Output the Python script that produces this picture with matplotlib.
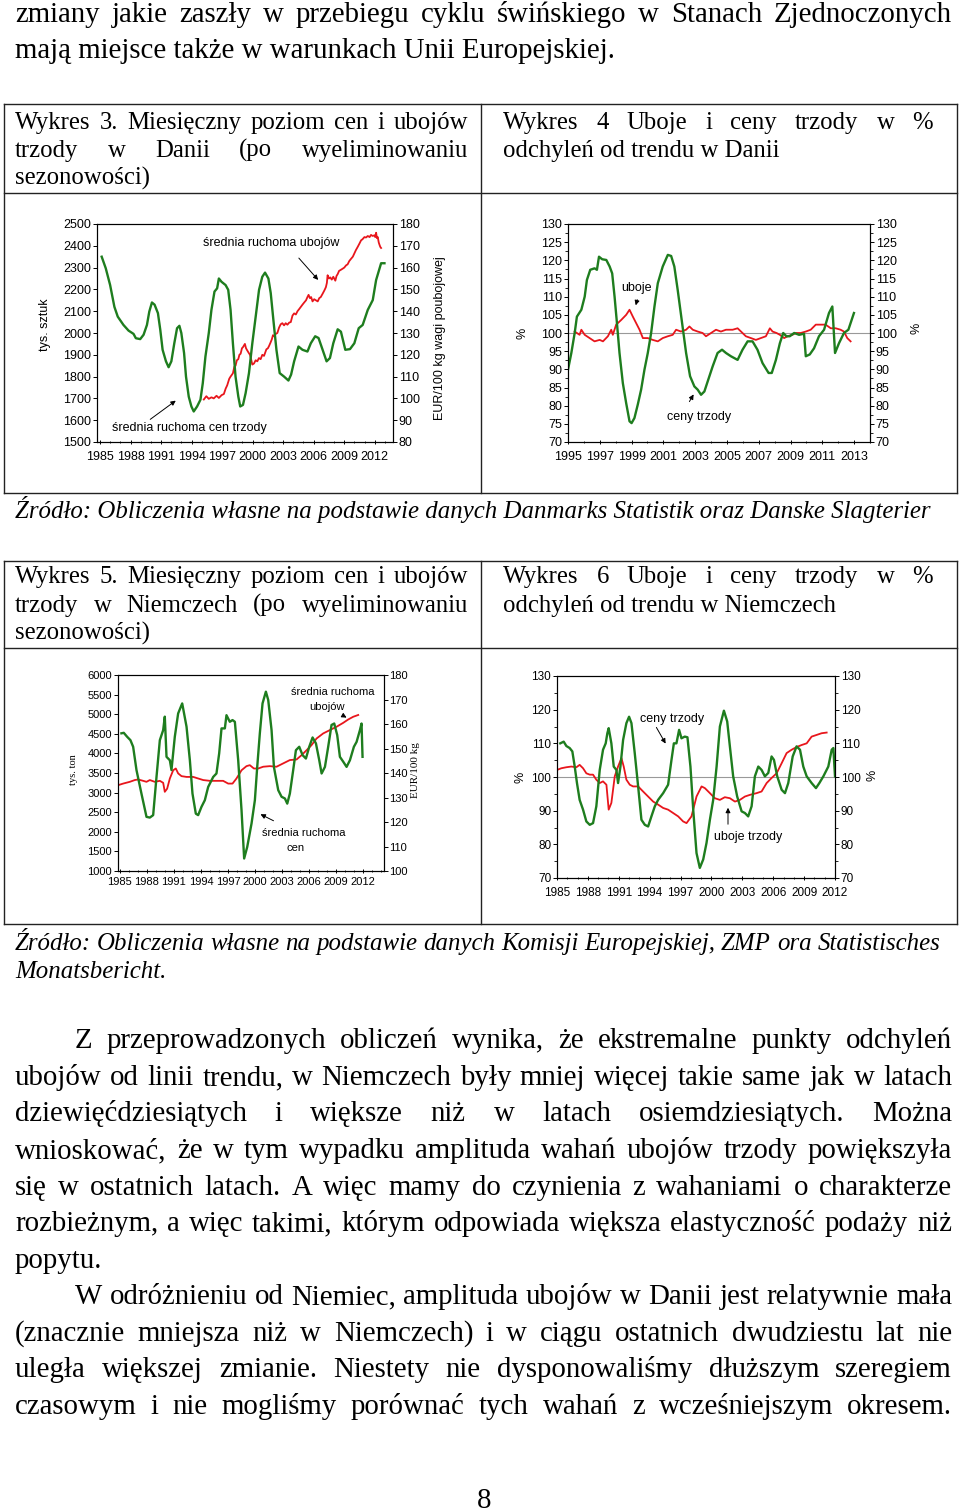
import numpy as np
import matplotlib
matplotlib.use("Agg")
import matplotlib.pyplot as plt
from matplotlib.lines import Line2D
from matplotlib.ticker import MultipleLocator

# ---- data (year, value) ----
# Wykres 3: Dania, srednia ruchoma cen (EUR/100 kg) i ubojow (tys. sztuk)
dk_price = [
    (1985.16, 165.0), (1985.56, 159.7), (1985.99, 152.0), (1986.41, 142.0), (1986.74, 137.5),
    (1987.30, 133.7), (1987.80, 131.1), (1988.29, 129.6), (1988.52, 127.6), (1988.95, 127.2),
    (1989.28, 129.2), (1989.61, 133.7), (1989.84, 139.8), (1990.10, 144.0), (1990.36, 143.0),
    (1990.69, 139.1), (1990.92, 131.5), (1991.15, 122.3), (1991.48, 117.0), (1991.74, 114.3),
    (1992.01, 117.0), (1992.30, 125.3), (1992.57, 132.2), (1992.80, 133.3), (1992.99, 130.0),
    (1993.26, 120.8), (1993.45, 110.0), (1993.72, 100.8), (1993.98, 96.3), (1994.21, 94.0),
    (1994.54, 96.3), (1994.87, 99.4), (1995.10, 107.0), (1995.36, 119.2), (1995.69, 130.0),
    (1995.95, 140.6), (1996.25, 149.0), (1996.51, 150.5), (1996.68, 155.0), (1996.94, 153.5),
    (1997.34, 152.0), (1997.60, 149.8), (1997.83, 140.6), (1998.06, 125.3), (1998.32, 110.0),
    (1998.59, 100.9), (1998.78, 96.3), (1999.05, 97.0), (1999.31, 102.4), (1999.64, 111.6),
    (1999.97, 125.3), (2000.30, 137.5), (2000.63, 149.8), (2000.95, 155.8), (2001.22, 157.7),
    (2001.55, 155.0), (2001.78, 148.3), (2002.04, 136.0), (2002.34, 122.3), (2002.66, 111.6),
    (2003.09, 110.0), (2003.52, 108.2), (2003.78, 110.9), (2004.08, 117.0), (2004.51, 123.8),
    (2004.90, 122.3), (2005.39, 121.5), (2005.72, 125.3), (2006.15, 128.5), (2006.48, 127.7),
    (2006.88, 122.3), (2007.27, 117.0), (2007.60, 118.5), (2007.93, 125.3), (2008.36, 131.7),
    (2008.68, 130.6), (2009.11, 122.3), (2009.57, 122.6), (2010.00, 125.3), (2010.43, 132.2),
    (2010.82, 133.7), (2011.32, 140.6), (2011.81, 145.1), (2012.14, 154.3), (2012.63, 162.0),
    (2012.96, 162.0),
]
dk_slaughter = [
    (1995.20, 1695), (1995.45, 1710), (1995.69, 1698), (1995.95, 1705), (1996.18, 1700),
    (1996.45, 1712), (1996.68, 1702), (1996.95, 1715), (1997.17, 1720), (1997.35, 1745),
    (1997.50, 1760), (1997.70, 1790), (1997.83, 1800), (1998.06, 1815), (1998.20, 1845),
    (1998.32, 1850), (1998.45, 1875), (1998.59, 1880), (1998.70, 1900), (1998.82, 1905),
    (1998.95, 1930), (1999.05, 1935), (1999.24, 1950), (1999.35, 1930), (1999.47, 1920),
    (1999.60, 1910), (1999.74, 1900), (1999.85, 1880), (1999.97, 1855), (2000.13, 1860),
    (2000.30, 1875), (2000.46, 1870), (2000.62, 1885), (2000.79, 1880), (2000.95, 1900),
    (2001.12, 1895), (2001.35, 1925), (2001.50, 1930), (2001.61, 1940), (2001.75, 1955),
    (2001.88, 1970), (2002.00, 1990), (2002.11, 1985), (2002.25, 1995), (2002.43, 2000),
    (2002.60, 2025), (2002.76, 2040), (2002.92, 2045), (2003.09, 2035), (2003.25, 2045),
    (2003.42, 2038), (2003.60, 2048), (2003.75, 2050), (2003.92, 2080), (2004.08, 2090),
    (2004.25, 2085), (2004.41, 2100), (2004.58, 2110), (2004.74, 2120), (2004.90, 2130),
    (2005.07, 2140), (2005.25, 2150), (2005.39, 2165), (2005.50, 2175), (2005.63, 2160),
    (2005.75, 2165), (2005.89, 2145), (2006.05, 2155), (2006.22, 2150), (2006.40, 2145),
    (2006.55, 2160), (2006.70, 2165), (2006.88, 2180), (2007.05, 2195), (2007.20, 2210),
    (2007.30, 2230), (2007.37, 2265), (2007.50, 2250), (2007.63, 2255), (2007.78, 2245),
    (2007.93, 2258), (2008.13, 2240), (2008.25, 2262), (2008.36, 2270), (2008.50, 2285),
    (2008.68, 2290), (2008.85, 2295), (2009.01, 2300), (2009.18, 2310), (2009.34, 2315),
    (2009.50, 2330), (2009.67, 2340), (2009.85, 2350), (2010.00, 2365), (2010.15, 2380),
    (2010.33, 2395), (2010.50, 2410), (2010.66, 2425), (2010.80, 2430), (2010.99, 2440),
    (2011.15, 2438), (2011.32, 2445), (2011.50, 2440), (2011.64, 2450), (2011.80, 2445),
    (2011.97, 2448), (2012.05, 2440), (2012.14, 2460), (2012.22, 2435), (2012.30, 2440),
    (2012.40, 2415), (2012.47, 2405), (2012.55, 2395), (2012.63, 2390),
]

# Wykres 4: Dania, % odchylen od trendu
dk_price_dev = [
    (1995.00, 89.9), (1995.21, 94.5), (1995.42, 100.0), (1995.56, 104.5), (1995.84, 106.4),
    (1996.05, 110.0), (1996.19, 114.6), (1996.40, 117.4), (1996.67, 117.8), (1996.82, 117.4),
    (1996.95, 121.0), (1997.15, 120.3), (1997.41, 120.1), (1997.62, 118.3), (1997.78, 116.4),
    (1997.93, 110.0), (1998.08, 102.7), (1998.24, 94.5), (1998.45, 86.2), (1998.66, 80.7),
    (1998.87, 75.7), (1999.00, 75.2), (1999.18, 76.6), (1999.39, 80.3), (1999.60, 84.4),
    (1999.81, 89.9), (2000.02, 94.5), (2000.23, 100.0), (2000.44, 107.3), (2000.65, 113.7),
    (2000.96, 118.3), (2001.28, 121.5), (2001.49, 121.2), (2001.69, 118.3), (2001.90, 111.9),
    (2002.18, 102.7), (2002.43, 94.5), (2002.68, 88.1), (2002.95, 85.3), (2003.16, 84.4),
    (2003.37, 83.0), (2003.58, 83.9), (2003.79, 86.7), (2004.10, 90.8), (2004.41, 94.5),
    (2004.69, 95.4), (2004.94, 94.5), (2005.25, 93.6), (2005.67, 92.6), (2005.98, 95.4),
    (2006.30, 97.7), (2006.61, 97.7), (2006.92, 95.4), (2007.24, 91.7), (2007.62, 89.0),
    (2007.82, 89.0), (2008.08, 92.6), (2008.33, 97.2), (2008.54, 100.0), (2008.74, 99.1),
    (2008.95, 99.1), (2009.23, 100.0), (2009.54, 99.5), (2009.85, 99.8), (2009.96, 93.6),
    (2010.21, 94.1), (2010.48, 95.8), (2010.79, 99.1), (2011.11, 100.9), (2011.42, 105.5),
    (2011.63, 107.3), (2011.80, 94.5), (2012.05, 97.2), (2012.36, 100.0), (2012.64, 100.9),
    (2012.99, 105.5),
]
dk_slaughter_dev = [
    (1995.42, 100.4), (1995.73, 99.5), (1995.84, 100.9), (1996.05, 99.5), (1996.36, 98.6),
    (1996.67, 97.7), (1996.99, 98.1), (1997.20, 97.7), (1997.51, 99.1), (1997.72, 100.9),
    (1997.82, 99.5), (1998.03, 102.3), (1998.35, 103.6), (1998.66, 105.0), (1998.87, 106.4),
    (1999.08, 104.5), (1999.29, 102.7), (1999.50, 100.9), (1999.71, 98.6), (2000.02, 98.6),
    (2000.33, 98.1), (2000.65, 97.7), (2000.96, 98.6), (2001.28, 99.1), (2001.59, 99.5),
    (2001.80, 100.9), (2002.11, 100.4), (2002.43, 100.9), (2002.64, 101.8), (2002.85, 100.9),
    (2003.16, 100.4), (2003.47, 100.0), (2003.68, 99.1), (2004.00, 100.0), (2004.31, 100.9),
    (2004.62, 100.4), (2004.94, 100.9), (2005.36, 100.9), (2005.67, 101.3), (2005.98, 100.0),
    (2006.19, 99.1), (2006.51, 98.6), (2006.82, 98.1), (2007.13, 98.6), (2007.45, 99.1),
    (2007.70, 101.3), (2007.87, 100.4), (2008.12, 100.0), (2008.33, 99.5), (2008.60, 98.6),
    (2008.81, 99.1), (2009.12, 99.5), (2009.33, 100.0), (2009.64, 100.0), (2009.96, 100.4),
    (2010.27, 100.9), (2010.59, 102.3), (2010.90, 102.3), (2011.21, 102.3), (2011.53, 101.3),
    (2011.84, 101.3), (2012.15, 100.9), (2012.36, 100.4), (2012.57, 98.6), (2012.78, 97.7),
]

# Wykres 5: Niemcy, srednia ruchoma cen (EUR/100 kg) i ubojow (tys. ton)
de_price = [
    (1985.18, 156.2), (1985.44, 156.4), (1985.81, 154.8), (1986.18, 153.4), (1986.48, 150.7),
    (1986.85, 141.2), (1987.40, 131.6), (1987.96, 122.1), (1988.33, 121.8), (1988.70, 122.8),
    (1989.07, 138.4), (1989.44, 153.4), (1989.81, 157.5), (1989.99, 163.0), (1990.18, 146.6),
    (1990.55, 145.2), (1990.73, 141.2), (1991.10, 154.8), (1991.47, 164.3), (1991.92, 168.4),
    (1992.40, 158.9), (1992.77, 145.2), (1993.06, 131.6), (1993.43, 123.4), (1993.69, 122.8),
    (1994.06, 126.2), (1994.43, 128.9), (1994.80, 134.3), (1995.36, 138.4), (1995.72, 139.8),
    (1996.02, 148.0), (1996.28, 158.2), (1996.65, 158.2), (1996.83, 163.6), (1997.20, 160.9),
    (1997.50, 161.6), (1997.76, 160.9), (1998.13, 145.2), (1998.50, 124.8), (1998.79, 105.1),
    (1999.13, 109.8), (1999.61, 119.4), (1999.98, 128.9), (2000.24, 142.5), (2000.53, 156.2),
    (2000.83, 168.4), (2001.20, 173.2), (2001.46, 169.8), (2001.83, 157.5), (2002.09, 142.5),
    (2002.57, 133.0), (2002.94, 130.3), (2003.31, 129.6), (2003.57, 127.5), (2003.86, 131.6),
    (2004.23, 141.2), (2004.53, 149.3), (2004.90, 150.7), (2005.27, 147.3), (2005.64, 145.9),
    (2006.01, 150.7), (2006.38, 154.5), (2006.75, 152.1), (2007.12, 145.2), (2007.38, 139.8),
    (2007.75, 142.5), (2008.11, 150.7), (2008.48, 159.6), (2008.78, 160.2), (2009.11, 155.5),
    (2009.41, 146.6), (2009.78, 144.6), (2010.15, 142.5), (2010.52, 145.2), (2010.96, 150.7),
    (2011.26, 152.7), (2011.63, 157.5), (2011.81, 160.2), (2011.92, 146.6),
]
de_slaughter = [
    (1984.82, 3190), (1985.37, 3230), (1986.11, 3275), (1986.66, 3320), (1987.03, 3335),
    (1987.59, 3300), (1987.96, 3275), (1988.33, 3320), (1988.88, 3275), (1989.44, 3300),
    (1989.81, 3250), (1989.99, 3020), (1990.25, 3100), (1990.55, 3360), (1990.92, 3570),
    (1991.21, 3615), (1991.47, 3490), (1991.84, 3420), (1992.40, 3400), (1993.14, 3400),
    (1993.69, 3360), (1994.25, 3320), (1994.99, 3300), (1995.72, 3300), (1996.46, 3300),
    (1997.02, 3230), (1997.50, 3230), (1997.94, 3360), (1998.50, 3570), (1999.05, 3675),
    (1999.42, 3700), (1999.87, 3615), (2000.35, 3615), (2000.90, 3660), (2001.64, 3675),
    (2002.38, 3660), (2003.12, 3745), (2003.86, 3830), (2004.60, 3845), (2005.16, 3955),
    (2005.71, 4080), (2006.26, 4210), (2006.82, 4380), (2007.56, 4510), (2008.30, 4595),
    (2009.04, 4680), (2009.78, 4780), (2010.33, 4865), (2010.89, 4935), (2011.44, 4980),
]

# Wykres 6: Niemcy, % odchylen od trendu
de_price_dev = [
    (1985.32, 110.0), (1985.65, 110.5), (1985.91, 109.2), (1986.23, 108.6), (1986.49, 107.6),
    (1986.72, 103.1), (1986.94, 98.2), (1987.20, 93.2), (1987.53, 90.3), (1987.85, 86.8),
    (1988.18, 85.8), (1988.50, 86.3), (1988.82, 91.3), (1989.15, 102.1), (1989.47, 108.1),
    (1989.73, 110.0), (1989.89, 113.0), (1990.02, 114.5), (1990.28, 110.0), (1990.51, 103.1),
    (1990.77, 102.1), (1990.93, 98.2), (1991.16, 103.1), (1991.42, 111.0), (1991.74, 116.0),
    (1992.00, 117.9), (1992.23, 116.0), (1992.55, 107.1), (1992.88, 97.2), (1993.20, 87.3),
    (1993.53, 85.8), (1993.85, 85.3), (1994.17, 88.3), (1994.50, 91.3), (1994.82, 93.2),
    (1995.31, 95.2), (1995.79, 97.7), (1996.12, 105.1), (1996.35, 110.0), (1996.60, 110.0),
    (1996.86, 114.0), (1997.09, 111.5), (1997.41, 112.0), (1997.67, 111.8), (1997.96, 103.1),
    (1998.23, 90.3), (1998.55, 77.4), (1998.87, 73.0), (1999.20, 75.5), (1999.52, 80.4),
    (1999.85, 87.3), (2000.17, 93.2), (2000.50, 103.1), (2000.82, 115.0), (2001.21, 119.7),
    (2001.53, 116.5), (2001.79, 109.1), (2002.11, 100.2), (2002.50, 94.2), (2002.93, 89.8),
    (2003.25, 89.3), (2003.57, 88.3), (2003.90, 91.3), (2004.22, 100.2), (2004.55, 103.1),
    (2004.87, 102.1), (2005.19, 100.2), (2005.52, 101.2), (2005.84, 106.1), (2006.07, 105.1),
    (2006.39, 100.2), (2006.82, 96.2), (2007.14, 95.2), (2007.46, 98.2), (2007.89, 106.1),
    (2008.27, 109.1), (2008.60, 108.1), (2008.92, 103.1), (2009.25, 100.2), (2009.73, 98.2),
    (2010.15, 96.7), (2010.48, 98.2), (2010.87, 100.2), (2011.35, 103.1), (2011.68, 108.1),
    (2011.84, 108.6), (2012.00, 100.2),
]
de_slaughter_dev = [
    (1985.00, 102.1), (1985.42, 102.6), (1985.91, 102.9), (1986.39, 103.1), (1986.88, 102.9),
    (1987.20, 103.6), (1987.53, 102.6), (1987.85, 101.1), (1988.18, 100.7), (1988.50, 100.7),
    (1988.82, 99.2), (1989.15, 98.2), (1989.47, 98.7), (1989.80, 97.7), (1990.02, 90.3),
    (1990.28, 92.3), (1990.61, 100.2), (1990.93, 103.1), (1991.26, 105.6), (1991.48, 103.1),
    (1991.74, 99.2), (1992.07, 97.7), (1992.39, 97.2), (1992.88, 97.2), (1993.36, 95.7),
    (1993.85, 94.2), (1994.34, 92.7), (1994.82, 91.8), (1995.31, 90.8), (1995.79, 90.3),
    (1996.28, 89.3), (1996.77, 88.3), (1997.25, 86.8), (1997.58, 86.3), (1998.06, 88.3),
    (1998.55, 94.2), (1999.04, 97.2), (1999.36, 96.7), (1999.85, 95.2), (2000.33, 93.7),
    (2000.82, 93.2), (2001.30, 94.0), (2001.79, 93.7), (2002.28, 92.7), (2002.76, 93.2),
    (2003.25, 94.2), (2003.74, 94.7), (2004.38, 95.2), (2004.87, 95.7), (2005.36, 98.2),
    (2005.84, 99.7), (2006.33, 101.1), (2006.82, 104.1), (2007.30, 107.1), (2007.79, 108.1),
    (2008.27, 108.9), (2008.76, 109.5), (2009.25, 110.0), (2009.73, 112.0), (2010.22, 112.5),
    (2010.70, 113.0), (2011.19, 113.2),
]

# ---- page text ----
top_lines = [
    "zmiany jakie zaszły w przebiegu cyklu świńskiego w Stanach Zjednoczonych",
    "mają miejsce także w warunkach Unii Europejskiej.",
]
head3 = ["Wykres 3. Miesięczny poziom cen i ubojów", "trzody w Danii (po wyeliminowaniu", "sezonowości)"]
head4 = ["Wykres 4 Uboje i ceny trzody w %", "odchyleń od trendu w Danii"]
head5 = ["Wykres 5. Miesięczny poziom cen i ubojów", "trzody w Niemczech (po wyeliminowaniu", "sezonowości)"]
head6 = ["Wykres 6 Uboje i ceny trzody w %", "odchyleń od trendu w Niemczech"]
source1 = "Źródło: Obliczenia własne na podstawie danych Danmarks Statistik oraz Danske Slagterier"
source2 = ["Źródło: Obliczenia własne na podstawie danych Komisji Europejskiej, ZMP ora Statistisches",
           "Monatsbericht."]
body = [
    "Z przeprowadzonych obliczeń wynika, że ekstremalne punkty odchyleń",
    "ubojów od linii trendu, w Niemczech były mniej więcej takie same jak w latach",
    "dziewięćdziesiątych i większe niż w latach osiemdziesiątych. Można",
    "wnioskować, że w tym wypadku amplituda wahań ubojów trzody powiększyła",
    "się w ostatnich latach. A więc mamy do czynienia z wahaniami o charakterze",
    "rozbieżnym, a więc takimi, którym odpowiada większa elastyczność podaży niż",
    "popytu.",
    "W odróżnieniu od Niemiec, amplituda ubojów w Danii jest relatywnie mała",
    "(znacznie mniejsza niż w Niemczech) i w ciągu ostatnich dwudziestu lat nie",
    "uległa większej zmianie. Niestety nie dysponowaliśmy dłuższym szeregiem",
    "czasowym i nie mogliśmy porównać tych wahań z wcześniejszym okresem.",
]

W, H = 960, 1511
GREEN = "#1e7d1e"
RED = "#e8161c"
SERIF = "Liberation Serif"
SANS = "Liberation Sans"
BODY = 20.8   # running text
CAP = 17.8    # table captions
SRC = 17.9    # source notes (italic)

plt.rcParams["font.family"] = [SANS, "DejaVu Sans"]
fig = plt.figure(figsize=(W / 100, H / 100), dpi=100)
renderer = fig.canvas.get_renderer()


def text_line(s, x0, yb, x1=None, size=BODY, style="normal"):
    """Write one line of page text; justified between x0 and x1 if x1 given."""
    if x1 is None:
        fig.text(x0 / W, 1 - yb / H, s, fontsize=size, family=SERIF, style=style,
                 va="baseline", ha="left")
        return
    words = s.split()
    arts = [fig.text(0, 0, w, fontsize=size, family=SERIF, style=style,
                     va="baseline", ha="left") for w in words]
    widths = [a.get_window_extent(renderer).width for a in arts]
    gap = (x1 - x0 - sum(widths)) / (len(words) - 1)
    x = x0
    for a, w in zip(arts, widths):
        a.set_position((x / W, 1 - yb / H))
        x += w + gap


def line(x0, y0, x1, y1):
    fig.add_artist(Line2D([x0 / W, x1 / W], [1 - y0 / H, 1 - y1 / H],
                          transform=fig.transFigure, color="#222222", lw=1.0))


def table(top, mid, bottom):
    line(4, top, 957, top)
    line(4, mid, 957, mid)
    line(4, bottom, 957, bottom)
    line(4, top, 4, bottom)
    line(957, top, 957, bottom)
    line(481, top, 481, bottom)


def px_axes(x0, y0, x1, y1):
    return fig.add_axes([x0 / W, 1 - y1 / H, (x1 - x0) / W, (y1 - y0) / H])


def style(ax, size, xpad=4):
    for s in ax.spines.values():
        s.set_linewidth(0.8)
    ax.tick_params(axis="both", which="major", labelsize=size, length=3, width=0.7, pad=1.2)
    ax.tick_params(axis="both", which="minor", length=2, width=0.6)
    ax.tick_params(axis="x", which="both", direction="inout", pad=xpad)


def label(x, y, s, size=9, rot=0, family=SANS):
    fig.text(x / W, 1 - y / H, s, fontsize=size, family=family, rotation=rot,
             ha="center", va="center")


def arrow(x0, y0, x1, y1):
    fig.add_artist(matplotlib.patches.FancyArrowPatch(
        (x0 / W, 1 - y0 / H), (x1 / W, 1 - y1 / H), transform=fig.transFigure,
        arrowstyle="-|>", mutation_scale=7, lw=0.7, color="black"))


def xy(pairs):
    a = np.array(pairs, dtype=float)
    return a[:, 0], a[:, 1]


# ---- page text and tables ----
text_line(top_lines[0], 15, 22, 952)
text_line(top_lines[1], 15, 58)

table(104, 193, 493)
text_line(head3[0], 15, 129, 468, size=CAP)
text_line(head3[1], 15, 157, 468, size=CAP)
text_line(head3[2], 15, 185, size=CAP)
text_line(head4[0], 503, 129, 933, size=CAP)
text_line(head4[1], 503, 157, size=CAP)
text_line(source1, 15, 518, size=SRC, style="italic")

table(561, 648, 924)
text_line(head5[0], 15, 583, 468, size=CAP)
text_line(head5[1], 15, 612, 468, size=CAP)
text_line(head5[2], 15, 640, size=CAP)
text_line(head6[0], 503, 583, 933, size=CAP)
text_line(head6[1], 503, 612, size=CAP)
text_line(source2[0], 15, 950, 940, size=SRC, style="italic")
text_line(source2[1], 15, 978, size=SRC, style="italic")

body_y = [1048, 1085, 1121, 1158, 1195, 1231, 1268, 1304, 1341, 1377, 1414]
for i, (s, yb) in enumerate(zip(body, body_y)):
    x0 = 75 if i in (0, 7) else 15
    if i == 6:
        text_line(s, x0, yb)
    else:
        text_line(s, x0, yb, 952)
fig.text(484 / W, 1 - 1508 / H, "8", fontsize=BODY, family=SERIF, ha="center", va="baseline")

# ---- Wykres 3 ----
ax = px_axes(97, 224, 393, 442)
x, y = xy(dk_slaughter)
ax.plot(x, y, color=RED, lw=1.3)
ax.set_xlim(1984.7, 2013.8)
ax.set_ylim(1500, 2500)
ax.yaxis.set_major_locator(MultipleLocator(100))
ax.set_xticks(range(1985, 2013, 3))
ax.xaxis.set_minor_locator(MultipleLocator(1))
style(ax, 9, xpad=5)
ax2 = ax.twinx()
x, y = xy(dk_price)
ax2.plot(x, y, color=GREEN, lw=1.7)
ax2.set_ylim(80, 180)
ax2.yaxis.set_major_locator(MultipleLocator(10))
style(ax2, 9)
label(45, 325, "tys. sztuk", rot=90)
label(440, 338, "EUR/100 kg wagi poubojowej", rot=90)
label(271, 243, "średnia ruchoma ubojów")
arrow(297, 256, 320, 282)
label(189, 428, "średnia ruchoma cen trzody")
arrow(148, 421, 178, 399)

# ---- Wykres 4 ----
ax = px_axes(568, 224, 870, 442)
ax.axhline(100, color="#999999", lw=0.8)
x, y = xy(dk_slaughter_dev)
ax.plot(x, y, color=RED, lw=1.3)
x, y = xy(dk_price_dev)
ax.plot(x, y, color=GREEN, lw=1.7)
ax.set_xlim(1995, 2014)
ax.set_ylim(70, 130)
ax.set_xticks(range(1995, 2014, 2))
ax.xaxis.set_minor_locator(MultipleLocator(1))
ax.yaxis.set_major_locator(MultipleLocator(5))
ax.yaxis.set_minor_locator(MultipleLocator(2.5))
style(ax, 9, xpad=5)
ax2 = ax.twinx()
ax2.set_ylim(70, 130)
ax2.yaxis.set_major_locator(MultipleLocator(5))
ax2.yaxis.set_minor_locator(MultipleLocator(2.5))
style(ax2, 9)
label(522, 333, "%", rot=90)
label(916, 328, "%", rot=90)
label(636, 288, "uboje")
arrow(638, 297, 635, 308)
label(699, 417, "ceny trzody")
arrow(688, 404, 695, 392)

# ---- Wykres 5 ----
ax = px_axes(118, 675, 384, 871)
x, y = xy(de_slaughter)
ax.plot(x, y, color=RED, lw=1.3)
ax.set_xlim(1984.8, 2014.3)
ax.set_ylim(1000, 6000)
ax.set_xticks(range(1985, 2013, 3))
ax.xaxis.set_minor_locator(MultipleLocator(1))
ax.yaxis.set_major_locator(MultipleLocator(500))
style(ax, 8, xpad=3)
ax2 = ax.twinx()
x, y = xy(de_price)
ax2.plot(x, y, color=GREEN, lw=1.7)
ax2.set_ylim(100, 180)
ax2.yaxis.set_major_locator(MultipleLocator(10))
style(ax2, 8)
ax2.tick_params(axis="y", pad=0.5)
label(73, 770, "tys. ton", size=7.5, rot=90, family=SERIF)
label(415, 770, "EUR/100 kg", size=8, rot=90, family=SERIF)
label(333, 692, "średnia ruchoma", size=8)
label(327, 707, "ubojów", size=8)
arrow(342, 715, 349, 719)
label(304, 833, "średnia ruchoma", size=8)
label(296, 848, "cen", size=8)
arrow(276, 822, 258, 813)

# ---- Wykres 6 ----
ax = px_axes(557, 676, 835, 878)
ax.axhline(100, color="#999999", lw=0.8)
x, y = xy(de_slaughter_dev)
ax.plot(x, y, color=RED, lw=1.3)
x, y = xy(de_price_dev)
ax.plot(x, y, color=GREEN, lw=1.7)
ax.set_xlim(1985, 2012)
ax.set_ylim(70, 130)
ax.set_xticks(range(1985, 2013, 3))
ax.xaxis.set_minor_locator(MultipleLocator(1))
ax.yaxis.set_major_locator(MultipleLocator(10))
ax.yaxis.set_minor_locator(MultipleLocator(5))
style(ax, 8.5, xpad=5)
ax2 = ax.twinx()
ax2.set_ylim(70, 130)
ax2.yaxis.set_major_locator(MultipleLocator(10))
ax2.yaxis.set_minor_locator(MultipleLocator(5))
style(ax2, 8.5)
label(520, 777, "%", rot=90)
label(873, 775, "%", rot=90)
label(672, 719, "ceny trzody")
arrow(655, 725, 667, 746)
label(748, 837, "uboje trzody")
arrow(728, 827, 728, 805)

fig.savefig("out.png", dpi=100)
